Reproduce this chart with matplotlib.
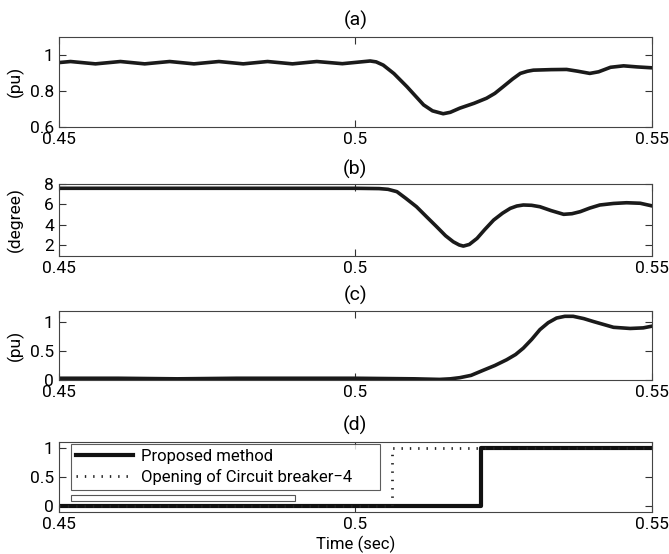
import numpy as np
import matplotlib.pyplot as plt
from matplotlib.patches import Rectangle

plt.rcParams['font.family'] = ['Roboto', 'DejaVu Sans']
plt.rcParams['font.size'] = 12

# (a) voltage magnitude
t_a = [0.4500, 0.4520, 0.4562, 0.4604, 0.4645, 0.4687, 0.4728, 0.4770, 0.4811,
       0.4852, 0.4894, 0.4935, 0.4978, 0.5025, 0.5035, 0.5047, 0.5065, 0.5087,
       0.5100, 0.5115, 0.5130, 0.5148, 0.5160, 0.5176, 0.5200, 0.5221, 0.5235,
       0.5249, 0.5265, 0.5278, 0.5290, 0.5300, 0.5330, 0.5356, 0.5375, 0.5395,
       0.5410, 0.5430, 0.5452, 0.5475, 0.5500]
v_a = [0.956, 0.962, 0.949, 0.962, 0.949, 0.962, 0.949, 0.962, 0.949,
       0.962, 0.949, 0.962, 0.950, 0.965, 0.960, 0.942, 0.895, 0.822,
       0.775, 0.721, 0.688, 0.672, 0.680, 0.703, 0.730, 0.758, 0.785,
       0.822, 0.865, 0.896, 0.908, 0.914, 0.917, 0.918, 0.908, 0.896,
       0.905, 0.930, 0.938, 0.932, 0.927]

# (b) angle
t_b = [0.4500, 0.5000, 0.5040, 0.5055, 0.5070, 0.5085, 0.5103, 0.5120, 0.5137,
       0.5152, 0.5165, 0.5175, 0.5182, 0.5192, 0.5205, 0.5218, 0.5233, 0.5248,
       0.5261, 0.5272, 0.5283, 0.5297, 0.5311, 0.5330, 0.5351, 0.5365, 0.5379,
       0.5395, 0.5412, 0.5435, 0.5457, 0.5480, 0.5500]
v_b = [7.58, 7.58, 7.55, 7.48, 7.25, 6.60, 5.78, 4.80, 3.83,
       2.95, 2.36, 2.05, 1.94, 2.10, 2.69, 3.55, 4.48, 5.15,
       5.62, 5.85, 5.95, 5.92, 5.78, 5.40, 5.04, 5.10, 5.30,
       5.65, 5.95, 6.10, 6.17, 6.12, 5.86]

# (c) current
t_c = [0.4500, 0.4600, 0.4700, 0.4800, 0.4900, 0.5000, 0.5100, 0.5142, 0.5160,
       0.5176, 0.5195, 0.5216, 0.5235, 0.5255, 0.5270, 0.5283, 0.5297, 0.5311,
       0.5325, 0.5339, 0.5353, 0.5367, 0.5385, 0.5401, 0.5418, 0.5435, 0.5463,
       0.5485, 0.5500]
v_c = [0.03, 0.03, 0.02, 0.03, 0.03, 0.03, 0.02, 0.01, 0.02,
       0.04, 0.08, 0.17, 0.25, 0.35, 0.44, 0.55, 0.70, 0.87,
       0.99, 1.07, 1.10, 1.10, 1.06, 1.01, 0.96, 0.91, 0.89,
       0.90, 0.93]

# (d) trip signals
t_trip = [0.45, 0.5211, 0.5211, 0.55]
v_trip = [0, 0, 1, 1]
t_cb = [0.45, 0.5062, 0.5062, 0.55]
v_cb = [0, 0, 1, 1]

fig = plt.figure(figsize=(6.69, 5.54), dpi=100)
L, W = 0.0877, 0.887
ax_a = fig.add_axes([L, 0.7713, W, 0.1625])
ax_b = fig.add_axes([L, 0.5384, W, 0.1295])
ax_c = fig.add_axes([L, 0.3141, W, 0.1254])
ax_d = fig.add_axes([L, 0.0758, W, 0.1264])

ax_a.plot(t_a, v_a, color='#1a1a1a', lw=2.6)
ax_a.set_ylim(0.6, 1.1)
ax_a.set_yticks([0.6, 0.8, 1])
ax_a.set_yticklabels(['0.6', '0.8', '1'])
ax_a.set_ylabel('(pu)')
ax_a.set_title('(a)', fontsize=14, pad=8)

ax_b.plot(t_b, v_b, color='#1a1a1a', lw=2.6)
ax_b.set_ylim(1, 8)
ax_b.set_yticks([2, 4, 6, 8])
ax_b.set_ylabel('(degree)')
ax_b.set_title('(b)', fontsize=14, pad=7)

ax_c.plot(t_c, v_c, color='#1a1a1a', lw=2.6)
ax_c.set_ylim(0, 1.2)
ax_c.set_yticks([0, 0.5, 1])
ax_c.set_yticklabels(['0', '0.5', '1'])
ax_c.set_ylabel('(pu)')
ax_c.set_title('(c)', fontsize=14, pad=7)

h1, = ax_d.plot(t_trip, v_trip, color='#111111', lw=3.0, label='Proposed method')
h2, = ax_d.plot(t_cb, v_cb, color='#222222', lw=2.0, ls=(0, (0.5, 2.5)),
                label='Opening of Circuit breaker\u22124')
ax_d.set_ylim(-0.1, 1.1)
ax_d.set_yticks([0, 0.5, 1])
ax_d.set_yticklabels(['0', '0.5', '1'])
ax_d.set_title('(d)', fontsize=14, pad=8)
ax_d.set_xlabel('Time (sec)', labelpad=3, fontsize=12)

leg = ax_d.legend(handles=[h1, h2], loc='upper left',
                  bbox_to_anchor=(0.0207, 0.243, 0.521, 0.728), mode='expand',
                  frameon=True, fancybox=False, borderaxespad=0, fontsize=12,
                  handlelength=3.4, handletextpad=0.5, labelspacing=0.3,
                  borderpad=0.3)
leg.get_frame().set_edgecolor('#333333')
leg.get_frame().set_linewidth(0.8)
ax_d.add_patch(Rectangle((0.0207, 0.157), 0.377, 0.086, transform=ax_d.transAxes,
                         fill=False, edgecolor='#555555', lw=0.8))

for ax in [ax_a, ax_b, ax_c, ax_d]:
    ax.set_xlim(0.45, 0.55)
    ax.set_xticks([0.45, 0.5, 0.55])
    ax.set_xticklabels(['0.45', '0.5', '0.55'])
    ax.tick_params(direction='in', length=5, width=0.8, top=True, right=True,
                   pad=3.5, colors='#333333', labelcolor='black', labelsize=12.5)
    for s in ax.spines.values():
        s.set_color('#444444')
        s.set_linewidth(0.8)
    ax.yaxis.label.set_fontsize(12.5)
    ax.yaxis.set_label_coords(-0.058, 0.5)

fig.savefig('out.png', dpi=100)
